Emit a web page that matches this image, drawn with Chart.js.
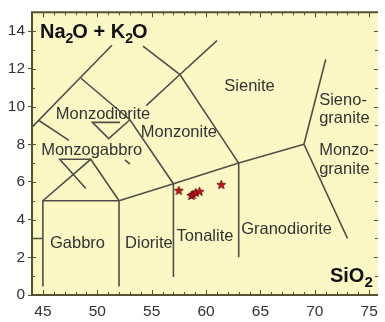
<!DOCTYPE html>
<html>
<head>
<meta charset="utf-8">
<script src="https://cdn.jsdelivr.net/npm/chart.js@4/dist/chart.umd.min.js"></script>
<style>
  html, body { margin: 0; padding: 0; background: #ffffff; }
  #wrap { width: 385px; height: 322px; }
</style>
</head>
<body>
<div id="wrap"><canvas id="tas"></canvas></div>
<script>
// Axis ticks
const xTickValues = [45, 50, 55, 60, 65, 70, 75];
const yTickValues = [0, 2, 4, 6, 8, 10, 12, 14];

// Samples: SiO2 vs Na2O + K2O (wt%)
const sampleSiO2 = [57.5, 58.65, 58.8, 59.05, 59.4, 61.4];
const sampleAlk  = [5.55, 5.28, 5.34, 5.44, 5.5, 5.86];

// Field boundaries (SiO2, Na2O + K2O)
const gabbroField       = [[45, 0.45], [45, 5], [52, 5], [52, 0.45]];
const peridotEdge       = [[44, 3], [45, 3]];
const dioriteTop        = [[52, 5], [57, 5.9], [63, 7], [69, 8]];
const tonaliteEdge      = [[57, 5.9], [57, 0.95]];
const granodioriteEdge  = [[63, 7], [63, 2]];
const monzograniteEdge  = [[69, 8], [73, 3]];
const sienograniteEdge  = [[69, 8], [71, 12.5]];
const monzogabbroEdge   = [[45, 5], [49.4, 7.2], [52, 5]];
const monzogabbroCross  = [[48.95, 5.65], [46.55, 7.2], [49.4, 7.2]];
const monzogabbroDash   = [[52.55, 7.17], [53.0, 6.95]];
const outerDiagonal     = [[44, 8.9], [51.35, 13.25]];
const innerDiagonal     = [[44.6, 9.27], [47.4, 8.2]];
const monzodioriteTop   = [[48.5, 11.5], [53, 9.3], [57, 5.9]];
const monzodioriteNotch = [[52.1, 9.16], [49.55, 9.16], [51.05, 8.3], [53, 9.3]];
const monzoniteTop      = [[54.5, 10.05], [57.6, 11.7], [61, 13.5]];
const sieniteEdge       = [[54.2, 13.2], [57.6, 11.7], [63, 7]];

const boundaries = [
  gabbroField, peridotEdge, dioriteTop, tonaliteEdge, granodioriteEdge,
  monzograniteEdge, sienograniteEdge, monzogabbroEdge, monzogabbroCross,
  monzogabbroDash, outerDiagonal, innerDiagonal, monzodioriteTop,
  monzodioriteNotch, monzoniteTop, sieniteEdge
];

// Field names
const fieldNames = ['Gabbro', 'Diorite', 'Tonalite', 'Granodiorite', 'Monzogabbro',
  'Monzodiorite', 'Monzonite', 'Sienite', 'Sieno-', 'granite', 'Monzo-', 'granite'];
const fieldX = [48.18, 54.75, 59.9, 67.4, 49.48, 50.53, 57.5, 64.0, 70.4, 70.4, 70.4, 70.4];
const fieldY = [2.71, 2.71, 3.1, 3.46, 7.65, 9.59, 8.64, 11.06, 10.32, 9.38, 7.67, 6.64];
const fieldAlign = ['center', 'center', 'center', 'center', 'center', 'center',
  'center', 'center', 'left', 'left', 'left', 'left'];

const FONT = "'Liberation Sans', Arial, Helvetica, sans-serif";
const PAPER = '#fcf8c6';
const FRAME = '#55502e';
const LINE = '#4f4f47';
const TEXT = '#333333';

// Filled five-pointed star marker
function makeStar(size) {
  const c = document.createElement('canvas');
  c.width = size; c.height = size;
  const g = c.getContext('2d');
  const cx = size / 2, cy = size / 2 + 0.4, ro = size / 2 - 0.8, ri = ro * 0.42;
  g.beginPath();
  for (let i = 0; i < 10; i++) {
    const r = i % 2 === 0 ? ro : ri;
    const a = -Math.PI / 2 + i * Math.PI / 5;
    const px = cx + r * Math.cos(a), py = cy + r * Math.sin(a);
    if (i === 0) g.moveTo(px, py); else g.lineTo(px, py);
  }
  g.closePath();
  g.fillStyle = '#c4121c';
  g.fill();
  g.lineWidth = 0.8;
  g.strokeStyle = '#5a0808';
  g.stroke();
  return c;
}

const paperPlugin = {
  id: 'paper',
  beforeDraw(chart) {
    const { ctx, chartArea: a } = chart;
    ctx.save();
    ctx.fillStyle = PAPER;
    ctx.fillRect(a.left, a.top, a.right - a.left, a.bottom - a.top);
    ctx.restore();
  }
};

function drawSubscripted(ctx, parts, x, y, size, subSize) {
  let cx = x;
  for (const [txt, sub] of parts) {
    ctx.font = 'bold ' + (sub ? subSize : size) + 'px ' + FONT;
    ctx.fillText(txt, cx, sub ? y + 5 : y);
    cx += ctx.measureText(txt).width - (sub ? 1 : 0);
  }
}

const framePlugin = {
  id: 'frame',
  afterDatasetsDraw(chart) {
    const { ctx, chartArea: a, scales } = chart;
    const xs = scales.x, ys = scales.y;
    ctx.save();
    // field names
    ctx.fillStyle = TEXT;
    ctx.font = '16.5px ' + FONT;
    ctx.textBaseline = 'middle';
    fieldNames.forEach((name, i) => {
      ctx.textAlign = fieldAlign[i];
      ctx.fillText(name, xs.getPixelForValue(fieldX[i]), ys.getPixelForValue(fieldY[i]));
    });
    // axis titles
    ctx.fillStyle = '#111111';
    ctx.textAlign = 'left';
    ctx.textBaseline = 'alphabetic';
    drawSubscripted(ctx, [['Na', false], ['2', true], ['O + K', false], ['2', true], ['O', false]],
      a.left + 8, a.top + 25.5, 20, 14);
    drawSubscripted(ctx, [['SiO', false], ['2', true]], a.right - 48, a.bottom - 13, 20, 15);
    ctx.restore();
  },
  afterDraw(chart) {
    const { ctx, chartArea: a, scales } = chart;
    const xs = scales.x, ys = scales.y;
    ctx.save();
    ctx.strokeStyle = FRAME;
    ctx.lineWidth = 1;
    ctx.beginPath();
    for (let v = Math.ceil(xs.min); v <= xs.max; v++) {
      const px = Math.round(xs.getPixelForValue(v)) + 0.5;
      const len = v % 5 === 0 ? 5 : 3;
      ctx.moveTo(px, a.bottom); ctx.lineTo(px, a.bottom - len);
      ctx.moveTo(px, a.top); ctx.lineTo(px, a.top + len);
    }
    for (let v = Math.ceil(ys.min); v <= ys.max; v++) {
      const py = Math.round(ys.getPixelForValue(v)) + 0.5;
      const len = v % 2 === 0 ? 4 : 3;
      ctx.moveTo(a.left, py); ctx.lineTo(a.left + len, py);
      ctx.moveTo(a.right, py); ctx.lineTo(a.right - len, py);
    }
    ctx.stroke();
    // frame: top, left, bottom
    ctx.lineWidth = 2;
    ctx.beginPath();
    ctx.moveTo(a.right, a.top); ctx.lineTo(a.left, a.top);
    ctx.lineTo(a.left, a.bottom); ctx.lineTo(a.right, a.bottom);
    ctx.stroke();
    ctx.restore();
  }
};

const lineSets = boundaries.map(seg => ({
  data: seg.map(([x, y]) => ({ x, y })),
  showLine: true,
  borderColor: LINE,
  borderWidth: 1.6,
  pointRadius: 0,
  pointHoverRadius: 0,
  fill: false,
  tension: 0
}));

const starMarker = makeStar(11);
const sampleSet = {
  data: sampleSiO2.map((x, i) => ({ x, y: sampleAlk[i] })),
  showLine: false,
  pointStyle: starMarker,
  pointRadius: 5,
  pointHoverRadius: 5
};

new Chart(document.getElementById('tas'), {
  type: 'scatter',
  data: { datasets: [...lineSets, sampleSet] },
  options: {
    responsive: true,
    maintainAspectRatio: false,
    devicePixelRatio: 1,
    animation: false,
    events: [],
    layout: { padding: { top: 5.6, right: 0, bottom: 0, left: 0 } },
    plugins: { legend: { display: false }, tooltip: { enabled: false } },
    scales: {
      x: {
        type: 'linear',
        min: 44,
        max: 75.8,
        afterFit(s) { s.height = 27; },
        afterBuildTicks(s) { s.ticks = xTickValues.map(v => ({ value: v })); },
        border: { display: false },
        grid: { drawOnChartArea: false, drawTicks: false },
        ticks: { padding: 7, color: TEXT, font: { family: FONT, size: 15.5 }, maxRotation: 0, autoSkip: false }
      },
      y: {
        type: 'linear',
        min: 0,
        max: 15,
        afterFit(s) { s.width = 32; },
        afterBuildTicks(s) { s.ticks = yTickValues.map(v => ({ value: v })); },
        border: { display: false },
        grid: { drawOnChartArea: false, drawTicks: true, tickLength: 4, color: FRAME },
        ticks: { padding: 3, color: TEXT, font: { family: FONT, size: 15.5 }, autoSkip: false }
      }
    }
  },
  plugins: [paperPlugin, framePlugin]
});
</script>
</body>
</html>
